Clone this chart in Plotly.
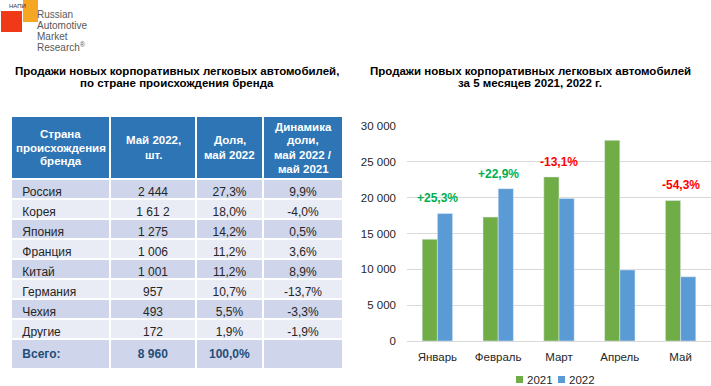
import plotly.graph_objects as go

W, H = 711, 386
FONT = "Liberation Sans, Arial, sans-serif"

# ---- data ----
countries = ["Россия", "Корея", "Япония", "Франция", "Китай", "Германия", "Чехия", "Другие", "Всего:"]
units_may22 = ["2 444", "1 61 2", "1 275", "1 006", "1 001", "957", "493", "172", "8 960"]
share_may22 = ["27,3%", "18,0%", "14,2%", "11,2%", "11,2%", "10,7%", "5,5%", "1,9%", "100,0%"]
share_change = ["9,9%", "-4,0%", "0,5%", "3,6%", "8,9%", "-13,7%", "-3,3%", "-1,9%", ""]
table_headers = [["Страна", "происхождения", "бренда"], ["Май 2022,", "шт."], ["Доля,", "май 2022"],
                 ["Динамика", "доли,", "май 2022 /", "май 2021"]]

months = ["Январь", "Февраль", "Март", "Апрель", "Май"]
series_names = ["2021", "2022"]
sales_2021 = [14200, 17300, 22900, 28000, 19600]
sales_2022 = [17800, 21260, 19900, 9910, 8960]
change_labels = ["+25,3%", "+22,9%", "-13,1%", "-64,6%", "-54,3%"]
y_ticks = [0, 5000, 10000, 15000, 20000, 25000, 30000]
y_tick_labels = ["0", "5 000", "10 000", "15 000", "20 000", "25 000", "30 000"]

left_title = ["Продажи новых корпоративных легковых автомобилей,", "по стране происхождения бренда"]
right_title = ["Продажи новых корпоративных легковых автомобилей", "за 5 месяцев 2021, 2022 г."]

COL_2021, COL_2022 = "#70AD47", "#5B9BD5"

def px_x(x):
    return x / W

def px_y(y):
    return 1 - y / H

fig = go.Figure()
shapes = []
annotations = []

def text_lines(lines, cx, cy, spacing, size, color, bold=True):
    top = cy - spacing * (len(lines) - 1) / 2
    for k, t in enumerate(lines):
        annotations.append(dict(x=px_x(cx), y=px_y(top + k * spacing), xref="paper", yref="paper",
                                text=("<b>%s</b>" % t) if bold else t, showarrow=False,
                                xanchor="center", yanchor="middle",
                                font=dict(family=FONT, size=size, color=color)))

# ---- table ----
col_widths = [99, 86, 67, 80]
tbl_left, hdr_top, hdr_h = 11, 116, 63
col_edges = [tbl_left]
for w in col_widths:
    col_edges.append(col_edges[-1] + w)

n = len(countries)
row_fill = ["#CFD5EA" if i % 2 == 0 else "#E9EBF5" for i in range(n)]
row_font = ["#262626"] * (n - 1) + ["#1F4E79"]

def bold_last(col):
    return [("<b>%s</b>" % v if (i == n - 1 and v) else v) for i, v in enumerate(col)]

fig.add_trace(go.Table(
    domain=dict(x=[px_x(col_edges[0]), px_x(col_edges[-1])], y=[px_y(372), px_y(hdr_top)]),
    columnwidth=col_widths,
    header=dict(
        values=[""] * 4,
        fill_color="#2E75B6",
        line=dict(color="white", width=2),
        height=hdr_h,
        font=dict(family=FONT, size=12, color="white"),
    ),
    cells=dict(
        values=[[" " + c if i < n - 1 else " <b>" + c + "</b>" for i, c in enumerate(countries)],
                bold_last(units_may22), bold_last(share_may22), bold_last(share_change)],
        fill_color=[row_fill] * 4,
        line=dict(color="white", width=2),
        align=["left", "center", "center", "center"],
        font=dict(family=FONT, size=12, color=[row_font] * 4),
        height=20,
    ),
))

for i, lines in enumerate(table_headers):
    x0, x1 = col_edges[i], col_edges[i + 1]
    text_lines(lines, (x0 + x1) / 2, hdr_top + hdr_h / 2, 14, 11.5, "white")

# ---- bars ----
fig.add_trace(go.Bar(x=months, y=sales_2021, name=series_names[0], marker_color=COL_2021,
                     xaxis="x", yaxis="y", showlegend=False))
fig.add_trace(go.Bar(x=months, y=sales_2022, name=series_names[1], marker_color=COL_2022,
                     xaxis="x", yaxis="y", showlegend=False))

for m, a, b, lab in zip(months, sales_2021, sales_2022, change_labels):
    col = "#00B050" if lab.startswith("+") else "#FF0000"
    annotations.append(dict(x=m, y=max(a, b) + 2100, xref="x", yref="y", text="<b>%s</b>" % lab,
                            showarrow=False, yanchor="middle",
                            font=dict(family=FONT, size=12, color=col)))

# legend (compact, like the source)
for name, col, lx in zip(series_names, [COL_2021, COL_2022], [516, 558]):
    shapes.append(dict(type="rect", xref="paper", yref="paper", x0=px_x(lx), x1=px_x(lx + 7),
                       y0=px_y(383), y1=px_y(376), fillcolor=col, line=dict(width=0)))
    annotations.append(dict(x=px_x(lx + 9), y=px_y(379.5), xref="paper", yref="paper", text=name,
                            showarrow=False, xanchor="left", yanchor="middle",
                            font=dict(family=FONT, size=11.5, color="#262626")))

# titles
text_lines(left_title, 177, 77, 12.5, 11.5, "black")
text_lines(right_title, 530, 77, 12.5, 11.5, "black")

# logo
annotations.append(dict(x=px_x(7), y=px_y(6), xref="paper", yref="paper", text="НАПИ",
                        showarrow=False, xanchor="left", yanchor="middle",
                        font=dict(family=FONT, size=6, color="#333333")))
for i, t in enumerate(["Russian", "Automotive", "Market", "Research<sup>®</sup>"]):
    annotations.append(dict(x=px_x(35), y=px_y(14 + i * 11), xref="paper", yref="paper", text=t,
                            showarrow=False, xanchor="left", yanchor="middle",
                            font=dict(family=FONT, size=10, color="#595959")))

shapes += [
    dict(type="rect", xref="paper", yref="paper", x0=px_x(23), x1=px_x(38), y0=px_y(22), y1=px_y(0),
         fillcolor="#F5A623", line=dict(width=0), layer="below"),
    dict(type="rect", xref="paper", yref="paper", x0=px_x(1), x1=px_x(22), y0=px_y(32), y1=px_y(11),
         fillcolor="#F03A17", line=dict(width=0), layer="below"),
]

fig.update_layout(
    width=W, height=H,
    margin=dict(l=0, r=0, t=0, b=0, pad=0, autoexpand=False),
    paper_bgcolor="white", plot_bgcolor="white",
    font=dict(family=FONT, size=11.5, color="#262626"),
    barmode="group", bargap=0.5, bargroupgap=0,
    showlegend=False,
    xaxis=dict(domain=[px_x(407), px_x(711)], showline=True, linecolor="#D9D9D9",
               tickfont=dict(size=11.5, color="#262626"), ticks="", showgrid=False,
               ticklabelstandoff=5, automargin=False),
    yaxis=dict(domain=[px_y(341), px_y(126)], range=[0, 30000], tickvals=y_ticks,
               ticktext=y_tick_labels, showgrid=True, gridcolor="#D9D9D9", gridwidth=1,
               zeroline=False, tickfont=dict(size=11.5, color="#262626"), ticks="",
               ticklabelstandoff=10, automargin=False),
    annotations=annotations,
    shapes=shapes,
)

fig.write_html("out.html", config={"displayModeBar": False},
               post_script="document.body.style.margin='0px';")
